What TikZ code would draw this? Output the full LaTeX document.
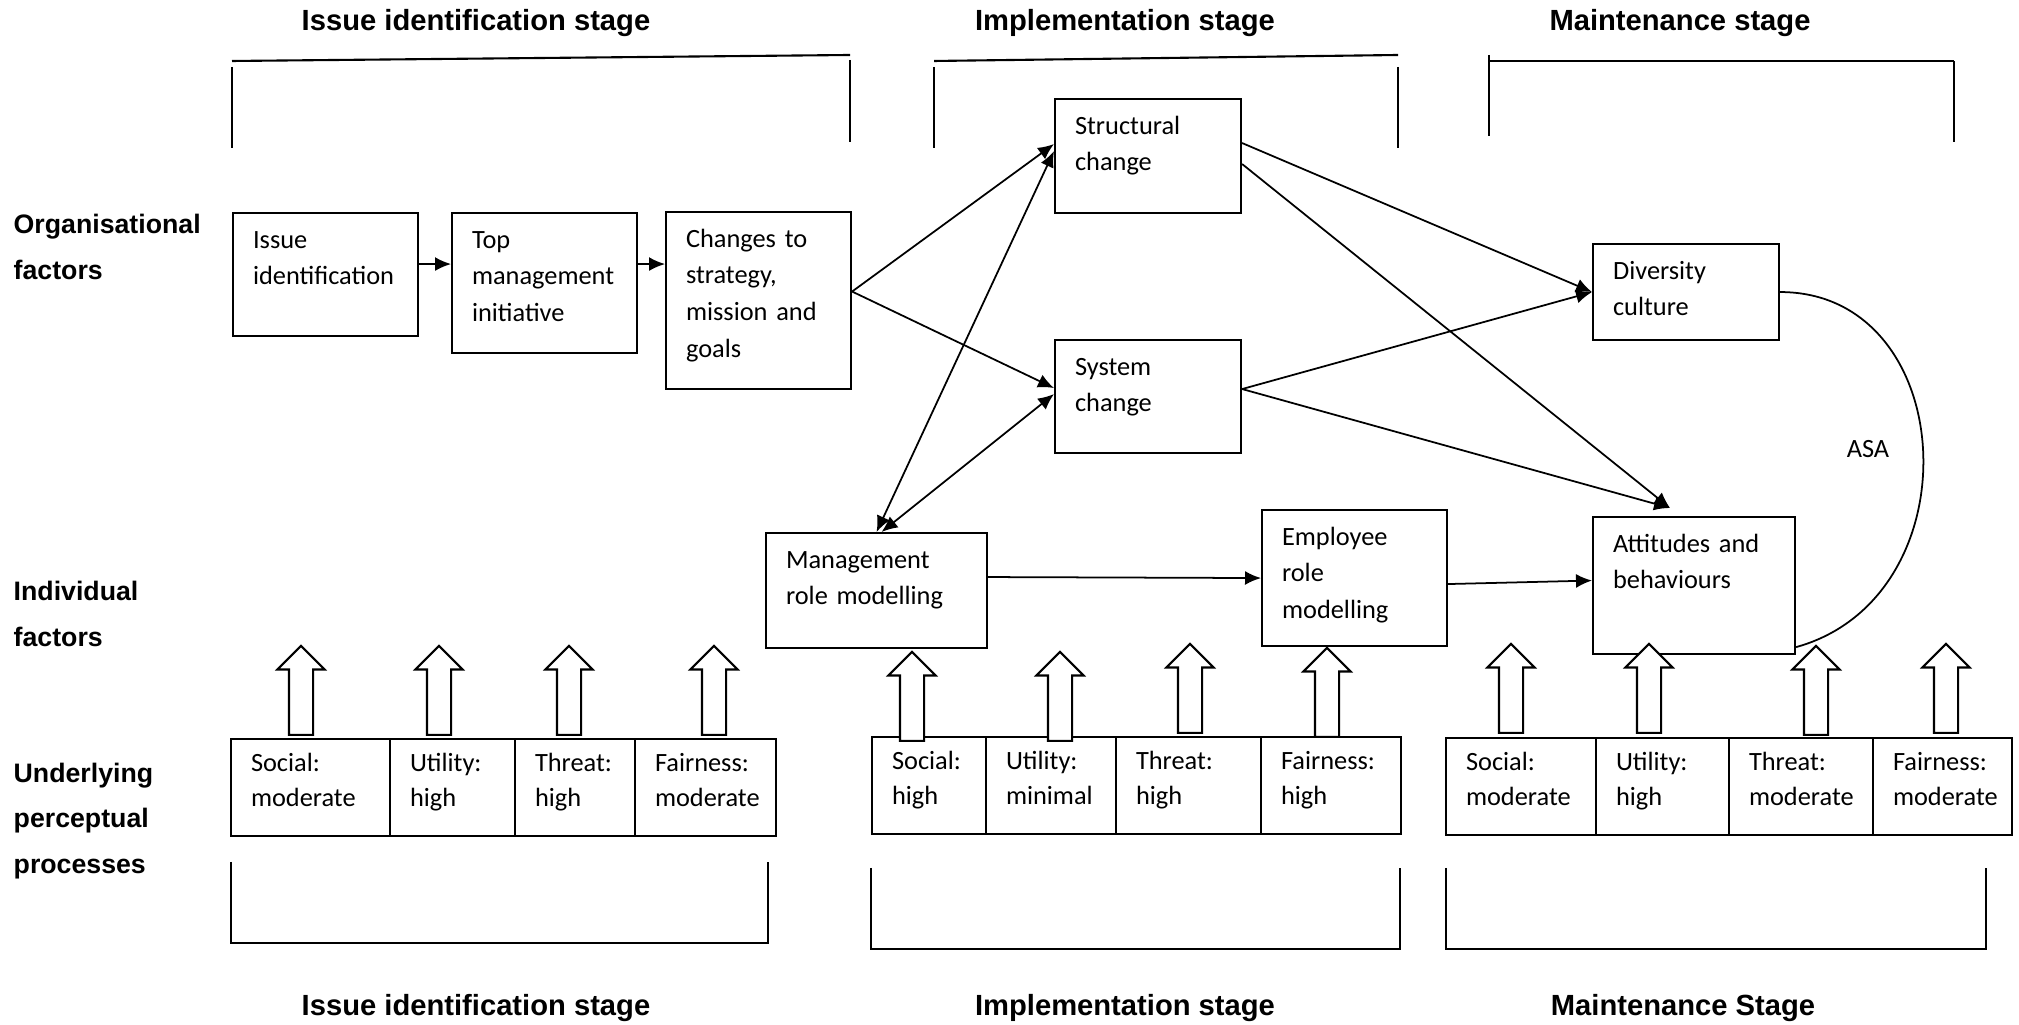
\documentclass[tikz,border=0pt]{standalone}
\usepackage{fontspec}
\newfontfamily\boxfont{Carlito}
\newfontfamily\headfont{Liberation Sans}
\usetikzlibrary{shapes.arrows, arrows.meta, positioning}
\tikzset{
    stage/.style={font=\headfont\bfseries\fontsize{8.3}{10}\selectfont},
    factor/.style={anchor=west, align=left, inner sep=0pt, font=\headfont\bfseries\fontsize{7.6}{13}\selectfont},
    block/.style={draw, line width=0.6pt, anchor=north west, align=left, inner xsep=2mm, inner ysep=0pt, text height=3.5mm, font=\boxfont\fontsize{7.5}{10.5}\selectfont},
    percept/.style={draw, line width=0.6pt, outer sep=0pt, anchor=north west, align=left, inner xsep=2mm, inner ysep=0pt, text height=3.3mm, text depth=6.4mm, font=\boxfont\fontsize{7.5}{9.7}\selectfont},
    uparrow/.style={single arrow, draw, line width=0.6pt, fill=white, rotate=90, anchor=tail, minimum height=8.9mm, inner xsep=0pt, inner ysep=1.1mm, single arrow head extend=1.15mm},
    arrow/.style={line width=0.5pt, ->, >={Latex[length=1.6mm,width=1.4mm]}},
    bracket/.style={line width=0.6pt}
}
\begin{document}
\begin{tikzpicture}[x=0.1mm, y=-0.1mm]
    \useasboundingbox (0,0) rectangle (2019,1025);

    % stage headings
    \node (stage1) [stage] at (476,23) {Issue identification stage};
    \node (stage2) [stage] at (1125,23) {Implementation stage};
    \node (stage3) [stage] at (1680,23) {Maintenance stage};
    \node (foot1) [stage] at (476,1008) {Issue identification stage};
    \node (foot2) [stage] at (1125,1008) {Implementation stage};
    \node (foot3) [stage] at (1683,1008) {Maintenance Stage};

    % row labels
    \node (orgf) [factor] at (13,247) {Organisational\\factors};
    \node (indf) [factor] at (13,614) {Individual\\factors};
    \node (perf) [factor] at (13,821) {Underlying\\perceptual\\processes};

    % brackets
    \draw [bracket] (232,61) -- (850,55);
    \draw [bracket] (232,67) -- (232,148);
    \draw [bracket] (850,60) -- (850,142);
    \draw [bracket] (934,61) -- (1398,55);
    \draw [bracket] (934,67) -- (934,148);
    \draw [bracket] (1398,67) -- (1398,148);
    \draw [bracket] (1489,61) -- (1954,61);
    \draw [bracket] (1489,55) -- (1489,136);
    \draw [bracket] (1954,61) -- (1954,142);
    \draw [bracket] (231,862) -- (231,943) -- (768,943) -- (768,862);
    \draw [bracket] (871,868) -- (871,949) -- (1400,949) -- (1400,868);
    \draw [bracket] (1446,868) -- (1446,949) -- (1986,949) -- (1986,868);

    % organisational and individual boxes
    \node (issue) [block, text width=14.5mm, text depth=8.8mm] at (232,212) {Issue\\identification};
    \node (top) [block, text width=14.5mm, text depth=10.5mm] at (451,212) {Top\\management\\initiative};
    \node (changes) [block, text width=14.5mm, text depth=14.2mm] at (665,211) {Changes to\\strategy,\\mission and\\goals};
    \node (structural) [block, text width=14.6mm, text depth=7.9mm] at (1054,98) {Structural\\change};
    \node (system) [block, text width=14.6mm, text depth=7.8mm] at (1054,339) {System\\change};
    \node (diversity) [block, text width=14.6mm, text depth=6.1mm] at (1592,243) {Diversity\\culture};
    \node (mgmt) [block, text width=18.1mm, text depth=8.0mm] at (765,532) {Management\\role modelling};
    \node (employee) [block, text width=14.5mm, text depth=10.1mm] at (1261,509) {Employee\\role\\modelling};
    \node (attitudes) [block, text width=16.2mm, text depth=10.2mm] at (1592,516) {Attitudes and\\behaviours};
    \node (asa) [font=\boxfont\fontsize{7.5}{9}\selectfont] at (1868,449) {ASA};

    % perceptual processes
    \node (is1) [percept, text width=11.9mm] at (231,739) {Social:\\moderate};
    \node (is2) [percept, text width=8.5mm, right=0pt of is1] {Utility:\\high};
    \node (is3) [percept, text width=8.0mm, right=0pt of is2] {Threat:\\high};
    \node (is4) [percept, text width=10.1mm, right=0pt of is3] {Fairness:\\moderate};
    \node (im1) [percept, text width=7.4mm] at (872,737) {Social:\\high};
    \node (im2) [percept, text width=9.0mm, right=0pt of im1] {Utility:\\minimal};
    \node (im3) [percept, text width=10.5mm, right=0pt of im2] {Threat:\\high};
    \node (im4) [percept, text width=10.0mm, right=0pt of im3] {Fairness:\\high};
    \node (ma1) [percept, text width=11.0mm] at (1446,738) {Social:\\moderate};
    \node (ma2) [percept, text width=9.3mm, right=0pt of ma1] {Utility:\\high};
    \node (ma3) [percept, text width=10.4mm, right=0pt of ma2] {Threat:\\moderate};
    \node (ma4) [percept, text width=9.9mm, right=0pt of ma3] {Fairness:\\moderate};

    % block arrows
    \node (ua1) [uparrow] at (301,736) {};
    \node (ua2) [uparrow] at (439,736) {};
    \node (ua3) [uparrow] at (569,736) {};
    \node (ua4) [uparrow] at (714,736) {};
    \node (ua5) [uparrow] at (912,742) {};
    \node (ua6) [uparrow] at (1060,742) {};
    \node (ua7) [uparrow] at (1190,734) {};
    \node (ua8) [uparrow] at (1327,738) {};
    \node (ua9) [uparrow] at (1511,734) {};
    \node (ua10) [uparrow] at (1649,734) {};
    \node (ua11) [uparrow] at (1816,736) {};
    \node (ua12) [uparrow] at (1946,734) {};

    % connectors
    \coordinate (attin) at ([xshift=-2.4mm,yshift=0.8mm]attitudes.north);
    \draw [arrow] ([yshift=1.05mm]issue.east) -- ([yshift=1.05mm]issue.east -| top.west);
    \draw [arrow] ([yshift=1.9mm]top.east) -- ([yshift=1.9mm]top.east -| changes.west);
    \draw [arrow] ([yshift=0.9mm]changes.east) -- ([yshift=1.2mm]structural.west);
    \draw [arrow] ([yshift=0.9mm]changes.east) -- ([yshift=0.85mm]system.west);
    \draw [arrow, <->] ([yshift=0.5mm]structural.west) -- (mgmt.north);
    \draw [arrow, <->] ([yshift=0.25mm]system.west) -- ([xshift=0.5mm]mgmt.north);
    \draw [arrow] ([yshift=1.3mm]structural.east) -- (diversity.west);
    \draw [arrow] ([yshift=-0.8mm]structural.east) -- (attin);
    \draw [arrow] ([yshift=0.75mm]system.east) -- (diversity.west);
    \draw [arrow] ([yshift=0.75mm]system.east) -- (attin);
    \draw [arrow] ([yshift=1.35mm]mgmt.east) -- (employee.west);
    \draw [arrow] ([yshift=-0.6mm]employee.east) -- ([yshift=0.5mm]attitudes.west);
    \draw [line width=0.5pt] (diversity.east) .. controls +(180,0) and +(180,-50) .. ([yshift=0.8mm]attitudes.south east);

\end{tikzpicture}
\end{document}
